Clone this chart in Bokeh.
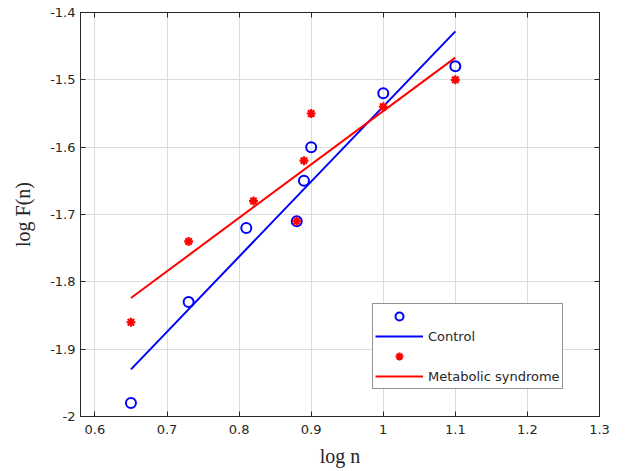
import math
from bokeh.plotting import figure
from bokeh.models import (Range1d, FixedTicker, LinearAxis, Legend, LegendItem)
from bokeh.embed import file_html
from bokeh.resources import INLINE

# ---- data ----
control_x = [0.65, 0.73, 0.81, 0.88, 0.89, 0.90, 1.00, 1.10]
control_y = [-1.98, -1.83, -1.72, -1.71, -1.65, -1.60, -1.52, -1.48]
metab_x = [0.65, 0.73, 0.82, 0.88, 0.89, 0.90, 1.00, 1.10]
metab_y = [-1.86, -1.74, -1.68, -1.71, -1.62, -1.55, -1.54, -1.50]
control_fit_x = [0.65, 1.10]
control_fit_y = [-1.930, -1.428]
metab_fit_x = [0.65, 1.10]
metab_fit_y = [-1.824, -1.467]
x_ticks = [0.6, 0.7, 0.8, 0.9, 1.0, 1.1, 1.2, 1.3]
x_tick_labels = ["0.6", "0.7", "0.8", "0.9", "1", "1.1", "1.2", "1.3"]
y_ticks = [-2.0, -1.9, -1.8, -1.7, -1.6, -1.5, -1.4]
y_tick_labels = ["-2", "-1.9", "-1.8", "-1.7", "-1.6", "-1.5", "-1.4"]

AX = "#262626"
TICKFONT = "DejaVu Sans"
SERIF = "Liberation Serif"

p = figure(width=632, height=470, output_backend="svg", toolbar_location=None,
           x_range=Range1d(0.58, 1.3), y_range=Range1d(-2.0, -1.4),
           min_border_left=80, min_border_right=33, min_border_top=12, min_border_bottom=54)
p.outline_line_color = AX
p.outline_line_width = 1
p.background_fill_color = "white"
p.border_fill_color = "white"

for ax, ticks, labels, standoff in ((p.xaxis[0], x_ticks, x_tick_labels, 8),
                                    (p.yaxis[0], y_ticks, y_tick_labels, 5)):
    ax.ticker = FixedTicker(ticks=ticks)
    ax.major_label_overrides = {t: l for t, l in zip(ticks, labels)}
    ax.major_tick_in = 5
    ax.major_tick_out = 0
    ax.minor_tick_line_color = None
    ax.axis_line_color = AX
    ax.major_tick_line_color = AX
    ax.major_label_text_color = AX
    ax.major_label_text_font = TICKFONT
    ax.major_label_text_font_size = "13px"
    ax.major_label_standoff = standoff
    ax.axis_label_text_font = SERIF
    ax.axis_label_text_font_size = "20px"
    ax.axis_label_text_font_style = "normal"
    ax.axis_label_text_color = AX

p.xaxis[0].axis_label = "log n"
p.xaxis[0].axis_label_standoff = 8
p.yaxis[0].axis_label = "log F(n)"
p.yaxis[0].axis_label_standoff = 13

for loc, ticks in (("above", x_ticks), ("right", y_ticks)):
    a = LinearAxis(ticker=FixedTicker(ticks=ticks))
    a.major_tick_in = 5
    a.major_tick_out = 0
    a.minor_tick_line_color = None
    a.axis_line_color = AX
    a.major_tick_line_color = AX
    a.major_label_text_color = None
    a.major_label_text_font_size = "1px"
    a.major_label_standoff = 0
    p.add_layout(a, loc)

p.xgrid.ticker = FixedTicker(ticks=x_ticks)
p.ygrid.ticker = FixedTicker(ticks=y_ticks)
p.grid.grid_line_color = "#dcdcdc"
p.grid.grid_line_width = 1

blue_line = p.line(control_fit_x, control_fit_y, line_color="#0000ff", line_width=2)
red_line = p.line(metab_fit_x, metab_fit_y, line_color="#ff0000", line_width=2)
circ = p.scatter(control_x, control_y, marker="circle", size=10, fill_color=None,
                 line_color="#0000ff", line_width=2)
star = p.scatter(metab_x, metab_y, marker="asterisk", size=9,
                 line_color="#ff0000", line_width=2.2)

legend = Legend(items=[
    LegendItem(label=" ", renderers=[circ]),
    LegendItem(label="Control", renderers=[blue_line]),
    LegendItem(label=" ", renderers=[star]),
    LegendItem(label="Metabolic syndrome", renderers=[red_line]),
], location=(292, 27))
legend.border_line_color = "#262626"
legend.border_line_width = 1
legend.background_fill_color = "white"
legend.background_fill_alpha = 1
legend.padding = 2
legend.spacing = 0
legend.margin = 0
legend.glyph_width = 48
legend.glyph_height = 20
legend.label_height = 20
legend.label_standoff = 5
legend.label_text_font = TICKFONT
legend.label_text_font_size = "13px"
legend.label_text_color = "#262626"
p.add_layout(legend, "center")

open("out.html", "w").write(file_html(p, INLINE))
